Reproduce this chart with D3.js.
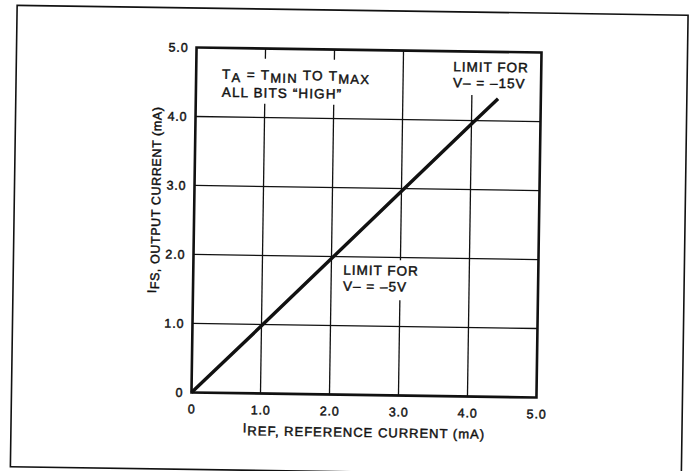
<!DOCTYPE html>
<html><head><meta charset="utf-8">
<script src="https://cdn.jsdelivr.net/npm/d3@7"></script>
<style>
body{margin:0;background:#fff}
text{font-family:"Liberation Sans",Arial,Helvetica,sans-serif;fill:#111;stroke:#111;stroke-width:0.45px}
</style>
</head><body>
<svg id="chart" width="693" height="471"></svg>
<script>
// ---- data ----
const xTicks = [0, 1, 2, 3, 4, 5];
const xTickLabels = ["0", "1.0", "2.0", "3.0", "4.0", "5.0"];
const yTicks = [0, 1, 2, 3, 4, 5];
const yTickLabels = ["0", "1.0", "2.0", "3.0", "4.0", "5.0"];
const iRef = [0, 1, 2, 3, 4, 4.38];             // mA
const iFs  = [0, 0.98, 1.97, 2.96, 3.95, 4.32]; // mA
const hGridY = [1, 2, 3, 4];
// vertical grid segments (interrupted behind labels)
const vGridX    = [1, 1, 2, 2, 3, 3, 4];
const vGridFrom = [0, 4.85, 0, 4.85, 0, 1.96, 0];
const vGridTo   = [4.2, 5, 4.2, 5, 1.38, 5, 4.37];
const xTitle = ["I", "REF, REFERENCE CURRENT (mA)"];
const yTitle = ["I", "FS, OUTPUT CURRENT (mA)"];

// ---- layout ----
const svg = d3.select("#chart");
svg.append("rect").attr("width", 693).attr("height", 471).attr("fill", "#fff");
const g = svg.append("g").attr("transform", "rotate(0.84,366.5,222.5)");

const x = d3.scaleLinear().domain([0, 5]).range([194, 539]);
const y = d3.scaleLinear().domain([0, 5]).range([395, 50]);

// outer border
g.append("rect").attr("x", 14).attr("y", 10.5).attr("width", 671).attr("height", 461.5)
  .attr("fill", "none").attr("stroke", "#111").attr("stroke-width", 1.6);

// grid
g.selectAll("line.h").data(hGridY).join("line")
  .attr("x1", x(0)).attr("x2", x(5)).attr("y1", d => y(d)).attr("y2", d => y(d))
  .attr("stroke", "#111").attr("stroke-width", 1.3);
g.selectAll("line.v").data(vGridX.map((v, i) => [v, vGridFrom[i], vGridTo[i]])).join("line")
  .attr("x1", d => x(d[0])).attr("x2", d => x(d[0]))
  .attr("y1", d => y(d[1])).attr("y2", d => y(d[2]))
  .attr("stroke", "#111").attr("stroke-width", 1.3);

// frame
g.append("rect").attr("x", x(0)).attr("y", y(5)).attr("width", x(5) - x(0)).attr("height", y(0) - y(5))
  .attr("fill", "none").attr("stroke", "#111").attr("stroke-width", 2.6);

// data line
g.append("path").datum(iRef.map((v, i) => [v, iFs[i]]))
  .attr("d", d3.line().x(d => x(d[0])).y(d => y(d[1])))
  .attr("fill", "none").attr("stroke", "#111").attr("stroke-width", 3.4);

// axes (labels only)
const xAxis = g.append("g").attr("transform", `translate(0,${y(0)})`)
  .call(d3.axisBottom(x).tickValues(xTicks).tickSize(0).tickPadding(12)
    .tickFormat((d, i) => xTickLabels[i]));
const yAxis = g.append("g").attr("transform", `translate(${x(0)},0)`)
  .call(d3.axisLeft(y).tickValues(yTicks).tickSize(0).tickPadding(8)
    .tickFormat((d, i) => yTickLabels[i]));
[xAxis, yAxis].forEach(a => {
  a.select(".domain").remove();
  a.selectAll("text").attr("font-size", "12.5px").style("letter-spacing", "0.9px")
    .attr("font-family", null).attr("fill", null);
});

// axis titles
const xt = g.append("text").attr("x", 367).attr("y", 434).attr("text-anchor", "middle")
  .attr("font-size", "13px").style("letter-spacing", "1px");
xt.append("tspan").text(xTitle[0]);
xt.append("tspan").attr("dy", 3).text(xTitle[1]);

const yt = g.append("text").attr("transform", "translate(157,203) rotate(-90)")
  .attr("text-anchor", "middle").attr("font-size", "12.5px").style("letter-spacing", "0.6px");
yt.append("tspan").text(yTitle[0]);
yt.append("tspan").attr("dy", 3).text(yTitle[1]);

// annotations
const a1 = g.append("text").attr("x", 220).attr("y", 81).attr("font-size", "13.5px").style("letter-spacing", "1.3px");
a1.append("tspan").text("T");
a1.append("tspan").attr("dy", 3).attr("font-size", "13px").text("A");
a1.append("tspan").attr("dy", -3).text(" = T");
a1.append("tspan").attr("dy", 3).attr("font-size", "13px").text("MIN");
a1.append("tspan").attr("dy", -3).text(" TO T");
a1.append("tspan").attr("dy", 3).attr("font-size", "13px").text("MAX");
g.append("text").attr("x", 220).attr("y", 99).attr("font-size", "13.5px").style("letter-spacing", "1.1px")
  .text("ALL BITS \u201CHIGH\u201D");

g.append("text").attr("x", 451).attr("y", 70).attr("font-size", "13.5px").style("letter-spacing", "1px").text("LIMIT FOR");
g.append("text").attr("x", 451).attr("y", 86).attr("font-size", "13.5px").style("letter-spacing", "1px").text("V\u2013 = \u201315V");

g.append("text").attr("x", 344).attr("y", 275).attr("font-size", "13.5px").style("letter-spacing", "1px").text("LIMIT FOR");
g.append("text").attr("x", 344).attr("y", 291).attr("font-size", "13.5px").style("letter-spacing", "1px").text("V\u2013 = \u20135V");
</script>
</body></html>
